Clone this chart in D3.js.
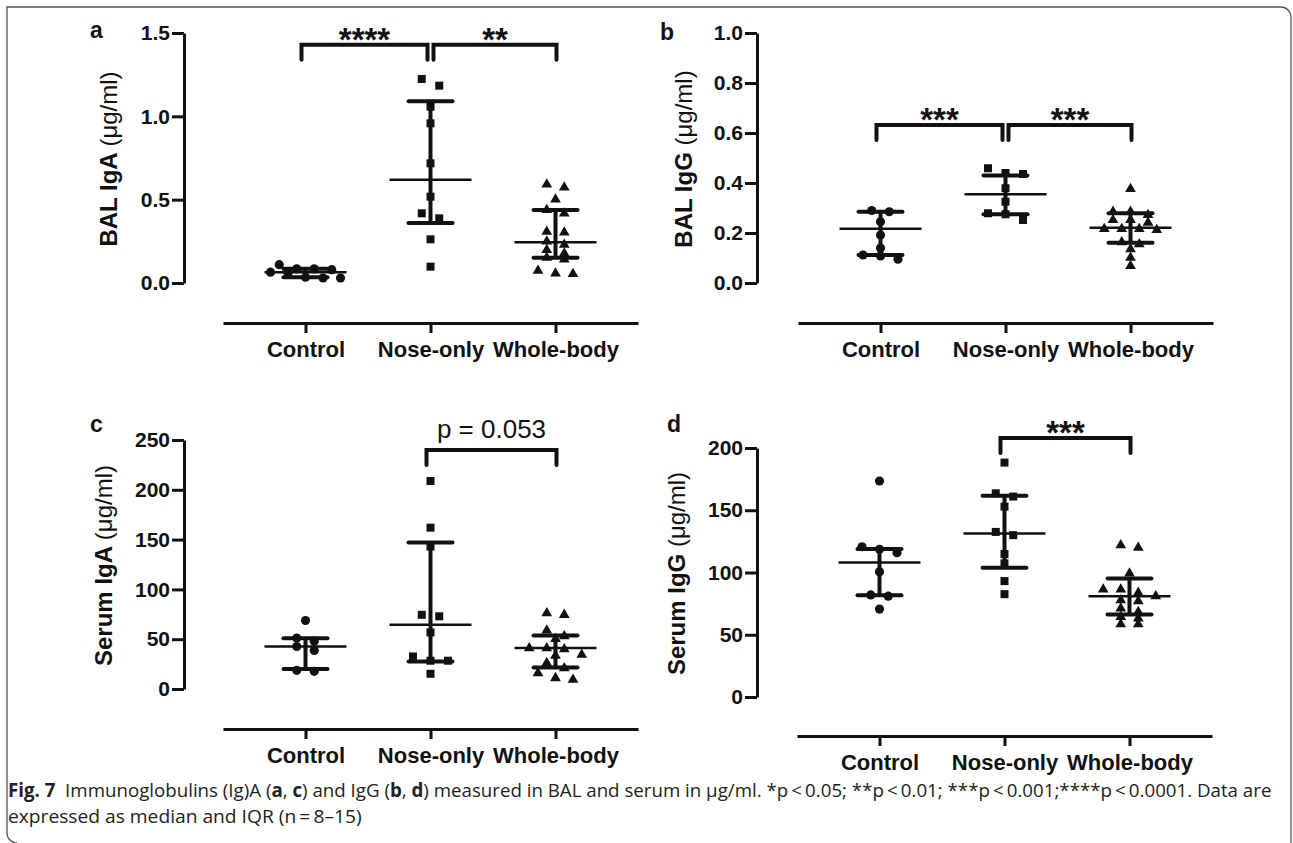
<!DOCTYPE html>
<meta charset="utf-8">
<style>
body { margin: 0; background: #fff; }
text { font-family: "Liberation Sans", Arial, sans-serif; fill: #111; }
.axis path, .axis line { stroke: #111; stroke-width: 3px; fill: none; }
.ytick text { font-size: 21px; font-weight: bold; }
.xtick text { font-size: 22px; font-weight: bold; }
.caption { font-family: "Open Sans", "Noto Sans", sans-serif; font-size: 19px; white-space: pre; fill: #222; }
</style>
<svg width="1293" height="843"></svg>
<script src="https://d3js.org/d3.v7.min.js"></script>
<script>

var svg = d3.select("svg");

var categories = ["Control", "Nose-only", "Whole-body"];

// a: BAL IgA (ug/ml)
var balIgAControl = [0.11, 0.085, 0.085, 0.08, 0.065, 0.06, 0.035, 0.03, 0.03];
var balIgANose    = [1.224, 1.184, 1.058, 0.958, 0.718, 0.518, 0.418, 0.388, 0.262, 0.098];
var balIgAWhole   = [0.592, 0.574, 0.502, 0.438, 0.418, 0.308, 0.304, 0.25, 0.23, 0.198, 0.178, 0.152, 0.142, 0.074, 0.058, 0.054];
var balIgAMedian  = [0.065, 0.62, 0.245];
var balIgAQ1      = [0.035, 0.36, 0.152];
var balIgAQ3      = [0.085, 1.09, 0.438];
var balIgATicks   = [0, 0.5, 1.0, 1.5];
var balIgABrackets = [[0, 1, 1.43, "****"], [1, 2, 1.43, "**"]];

// b: BAL IgG (ug/ml)
var balIgGControl = [0.29, 0.285, 0.245, 0.192, 0.14, 0.112, 0.108, 0.095];
var balIgGNose    = [0.459, 0.44, 0.436, 0.379, 0.325, 0.279, 0.275, 0.252];
var balIgGWhole   = [0.376, 0.285, 0.285, 0.272, 0.252, 0.252, 0.241, 0.216, 0.216, 0.216, 0.212, 0.163, 0.155, 0.135, 0.101, 0.068];
var balIgGMedian  = [0.217, 0.355, 0.221];
var balIgGQ1      = [0.112, 0.275, 0.161];
var balIgGQ3      = [0.285, 0.43, 0.279];
var balIgGTicks   = [0, 0.2, 0.4, 0.6, 0.8, 1.0];
var balIgGBrackets = [[0, 1, 0.632, "***"], [1, 2, 0.632, "***"]];

// c: Serum IgA (ug/ml)
var serumIgAControl = [68.8, 51.2, 48, 42.7, 38.7, 18.7, 17.7];
var serumIgANose    = [208.8, 162, 143, 74.5, 73, 56.8, 32.7, 28.4, 28.4, 15.3];
var serumIgAWhole   = [76.2, 74.5, 58.8, 53, 50.2, 41, 41, 40, 34.5, 33.4, 26.1, 21, 16, 11, 9.3];
var serumIgAMedian  = [42.7, 64.5, 41.1];
var serumIgAQ1      = [20, 27.7, 21.7];
var serumIgAQ3      = [51, 147, 53.8];
var serumIgATicks   = [0, 50, 100, 150, 200, 250];
var serumIgABrackets = [[1, 2, 240, "p = 0.053"]];

// d: Serum IgG (ug/ml)
var serumIgGControl = [173.5, 120.7, 118.6, 115.9, 100.6, 82, 81, 70.6];
var serumIgGNose    = [188.3, 163.6, 161, 152.9, 132.6, 130, 114.8, 107.3, 93.1, 82.6];
var serumIgGWhole   = [122, 119.9, 99.3, 86.4, 86.4, 83.7, 81, 77.8, 77, 71.1, 68.4, 64.4, 63.1, 58.5, 58.5];
var serumIgGMedian  = [108.1, 131.4, 81];
var serumIgGQ1      = [81.8, 103.8, 66.3];
var serumIgGQ3      = [118.8, 161.7, 95.2];
var serumIgGTicks   = [0, 50, 100, 150, 200];
var serumIgGBrackets = [[1, 2, 208, "***"]];

var panels = [
  { letter: "a", name: "BAL IgA ", values: [balIgAControl, balIgANose, balIgAWhole],
    median: balIgAMedian, q1: balIgAQ1, q3: balIgAQ3, ticks: balIgATicks, fmt: ".1f",
    brackets: balIgABrackets, domain: [0, 1.5],
    axisX: 184, top: 33, bottom: 283, axisY: 323, xr: [223, 638], labelX: 117, lx: 90, ly: 38 },
  { letter: "b", name: "BAL IgG ", values: [balIgGControl, balIgGNose, balIgGWhole],
    median: balIgGMedian, q1: balIgGQ1, q3: balIgGQ3, ticks: balIgGTicks, fmt: ".1f",
    brackets: balIgGBrackets, domain: [0, 1],
    axisX: 757, top: 33, bottom: 283, axisY: 323, xr: [798, 1213], labelX: 692, lx: 660, ly: 40 },
  { letter: "c", name: "Serum IgA ", values: [serumIgAControl, serumIgANose, serumIgAWhole],
    median: serumIgAMedian, q1: serumIgAQ1, q3: serumIgAQ3, ticks: serumIgATicks, fmt: "d",
    brackets: serumIgABrackets, domain: [0, 250],
    axisX: 184, top: 440, bottom: 689, axisY: 729, xr: [223, 638], labelX: 112, lx: 90, ly: 432 },
  { letter: "d", name: "Serum IgG ", values: [serumIgGControl, serumIgGNose, serumIgGWhole],
    median: serumIgGMedian, q1: serumIgGQ1, q3: serumIgGQ3, ticks: serumIgGTicks, fmt: "d",
    brackets: serumIgGBrackets, domain: [0, 200],
    axisX: 757, top: 448, bottom: 697, axisY: 736, xr: [797, 1212], labelX: 685, lx: 667, ly: 432 }
];

// marker shape per group: circle, square, triangle
var shapes = [
  d3.symbol().type(d3.symbolCircle).size(66),
  d3.symbol().type(d3.symbolSquare).size(64),
  d3.symbol().type(d3.symbolTriangle).size(50)
];

// prism-like scatter: points with nearly the same y are spread symmetrically
function spread(ys, step, thresh) {
  var idx = ys.map(function(y, i) { return i; }).sort(function(a, b) { return ys[a] - ys[b]; });
  var off = new Array(ys.length), row = [];
  function flush() {
    row.forEach(function(k, j) { off[k] = (j - (row.length - 1) / 2) * step; });
    row = [];
  }
  idx.forEach(function(k) {
    if (row.length && ys[k] - ys[row[0]] >= thresh) flush();
    row.push(k);
  });
  flush();
  return off;
}

panels.forEach(function(p) {
  var y = d3.scaleLinear().domain(p.domain).range([p.bottom, p.top]);
  var x = d3.scalePoint().domain(categories).range(p.xr).padding(0.66);
  var g = svg.append("g");

  // axes
  g.append("g").attr("class", "axis ytick")
      .attr("transform", "translate(" + p.axisX + ",0)")
      .call(d3.axisLeft(y).tickValues(p.ticks).tickFormat(d3.format(p.fmt))
        .tickSize(12).tickSizeOuter(0).tickPadding(2));

  g.append("g").attr("class", "axis xtick")
      .attr("transform", "translate(0," + p.axisY + ")")
      .call(d3.axisBottom(x).tickSize(10).tickSizeOuter(0).tickPadding(8));
  g.selectAll(".axis").attr("font-size", null).attr("font-family", null);

  // y label
  var lab = g.append("text")
      .attr("transform", "translate(" + p.labelX + "," + ((p.top + p.bottom) / 2 + 1) + ") rotate(-90)")
      .attr("text-anchor", "middle")
      .style("font-size", "24px");
  lab.append("tspan").style("font-weight", "bold").text(p.name);
  lab.append("tspan").text("(\u03bcg/ml)");

  // panel letter
  g.append("text").attr("x", p.lx).attr("y", p.ly)
      .style("font-size", "23px").style("font-weight", "bold").text(p.letter);

  // points
  p.values.forEach(function(vals, gi) {
    var ys = vals.map(function(v) { return y(v); });
    var off = spread(ys, 17.5, 7);
    g.append("g").selectAll("path")
      .data(vals)
      .enter().append("path")
        .attr("d", shapes[gi])
        .attr("fill", "#111")
        .attr("transform", function(d, i) {
          return "translate(" + (x(categories[gi]) + off[i]) + "," + ys[i] + ")";
        });
  });

  // median + IQR
  categories.forEach(function(c, gi) {
    var cx = x(c);
    g.append("line").attr("x1", cx - 41).attr("x2", cx + 41)
      .attr("y1", y(p.median[gi])).attr("y2", y(p.median[gi]))
      .attr("stroke", "#111").attr("stroke-width", 2.5);
    g.append("line").attr("x1", cx).attr("x2", cx)
      .attr("y1", y(p.q1[gi])).attr("y2", y(p.q3[gi]))
      .attr("stroke", "#111").attr("stroke-width", 4);
    [p.q1[gi], p.q3[gi]].forEach(function(v) {
      g.append("line").attr("x1", cx - 22).attr("x2", cx + 22)
        .attr("y1", y(v)).attr("y2", y(v))
        .attr("stroke", "#111").attr("stroke-width", 4).attr("stroke-linecap", "round");
    });
  });

  // significance brackets
  p.brackets.forEach(function(b) {
    var sharedL = p.brackets.some(function(o) { return o[1] === b[0]; });
    var sharedR = p.brackets.some(function(o) { return o[0] === b[1]; });
    var left = x(categories[b[0]]) + (sharedL ? 3 : -4);
    var right = x(categories[b[1]]) + (sharedR ? -3 : 1);
    var top = y(b[2]);
    g.append("path")
      .attr("d", "M" + left + "," + (top + 15) + "V" + top + "H" + right + "V" + (top + 15))
      .attr("fill", "none").attr("stroke", "#111").attr("stroke-width", 4)
      .attr("stroke-linecap", "round");
    var star = b[3].charAt(0) === "*";
    g.append("text")
      .attr("x", (left + right) / 2)
      .attr("y", star ? top + 6 : top - 12)
      .attr("text-anchor", "middle")
      .style("font-size", star ? "33px" : "26px")
      .style("font-weight", star ? "bold" : "normal")
      .text(b[3]);
  });
});

// figure frame
svg.append("path")
  .attr("d", "M17,843 A10,10 0 0 1 7,833 V7 H1281 A10,10 0 0 1 1291,17 V843")
  .attr("fill", "none").attr("stroke", "#555").attr("stroke-width", 1.3);

// caption, squeezed horizontally to the width of the printed lines
var line1 = [
  ["Fig. 7", 1], ["  Immunoglobulins (Ig)A (", 0], ["a", 1], [", ", 0], ["c", 1],
  [") and IgG (", 0], ["b", 1], [", ", 0], ["d", 1],
  [") measured in BAL and serum in \u03bcg/ml. *p\u2009<\u20090.05; **p\u2009<\u20090.01; ***p\u2009<\u20090.001;****p\u2009<\u20090.0001. Data are", 0]
];
var captionLines = [
  { parts: line1, x: 8, y: 797, width: 1264 },
  { parts: [["expressed as median and IQR (n\u2009=\u20098\u201315)", 0]], x: 8, y: 823, width: 354 }
];
captionLines.forEach(function(l) {
  var t = svg.append("text").attr("class", "caption");
  l.parts.forEach(function(s) {
    t.append("tspan").style("font-weight", s[1] ? "bold" : "normal").text(s[0]);
  });
  var w = t.node().getComputedTextLength();
  t.attr("transform", "translate(" + l.x + "," + l.y + ") scale(" + (l.width / w) + ",1)");
});

</script>
